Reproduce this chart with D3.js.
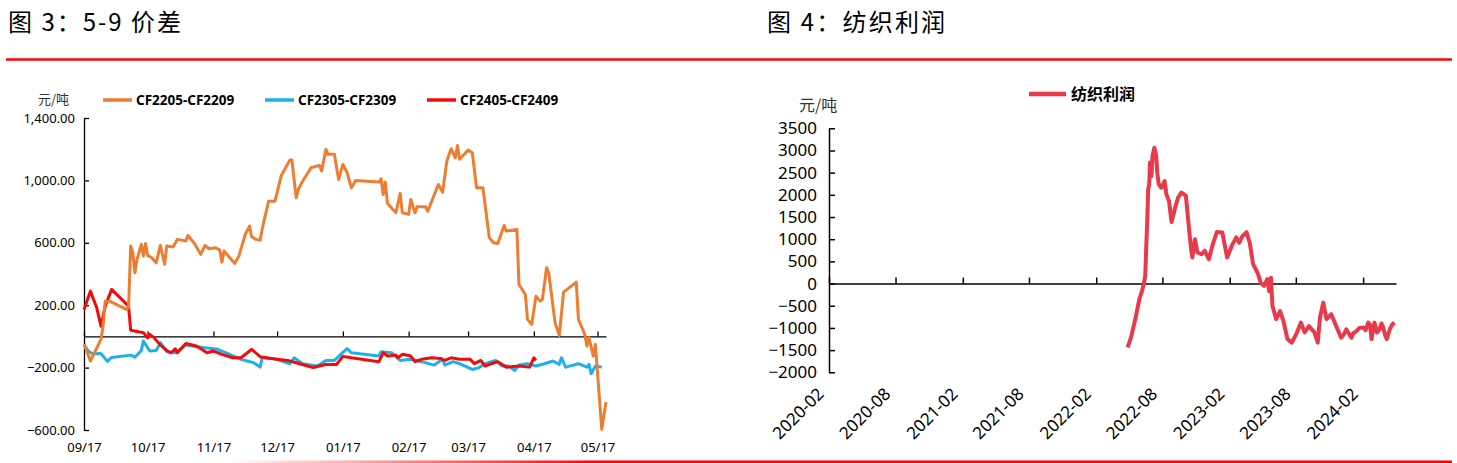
<!DOCTYPE html>
<html><head><meta charset="utf-8">
<script src="https://cdn.jsdelivr.net/npm/d3@7"></script>
<style>
html,body{margin:0;padding:0;background:#fff;}
svg{display:block;font-family:"Noto Sans","Noto Sans CJK SC",sans-serif;}
</style></head>
<body>
<svg id="c" width="1457" height="463"></svg>
<script>
// ---------- Left chart data (5-9 spread, 元/吨) ----------
const leftSeriesNames = ["CF2205-CF2209", "CF2305-CF2309", "CF2405-CF2409"];
const cf22Dates = ["09/17","09/18","09/20","09/22","09/25","09/26","09/27","09/29","10/07","10/08","10/09","10/10","10/11","10/12","10/14","10/15","10/16","10/17","10/19","10/21","10/23","10/25","10/26","10/29","10/31","11/04","11/05","11/08","11/11","11/13","11/15","11/18","11/20","11/21","11/22","11/27","11/29","12/02","12/04","12/05","12/07","12/09","12/10","12/11","12/13","12/16","12/19","12/23","12/24","12/26","12/27","12/29","01/02","01/06","01/07","01/09","01/10","01/13","01/15","01/17","01/19","01/21","01/23","02/03","02/04","02/05","02/06","02/07","02/11","02/13","02/14","02/17","02/18","02/20","02/21","02/25","02/26","03/03","03/05","03/07","03/09","03/11","03/12","03/13","03/17","03/19","03/21","03/24","03/27","03/29","03/31","04/03","04/04","04/09","04/10","04/13","04/14","04/16","04/18","04/20","04/21","04/23","04/24","04/27","04/29","05/01","05/07","05/08","05/11","05/12","05/13","05/15","05/16","05/19","05/21"];
const cf22Values = [-51,-83,-158,-103,-19,66,226,226,173,186,579,536,408,494,590,515,596,519,504,472,583,462,579,573,622,611,647,596,526,583,562,568,553,476,547,468,515,654,707,639,622,617,690,750,867,867,1032,1130,1130,889,942,995,1081,1096,1060,1199,1167,1167,1006,1103,1049,953,1000,989,1011,910,989,853,793,917,793,782,878,793,831,831,803,974,925,1124,1203,1145,1224,1135,1194,1177,953,953,633,600,596,711,675,686,333,269,109,77,258,226,237,440,408,88,6,284,348,109,13,-62,-8,-126,-51,-596,-421];

const cf23Dates = ["09/17","09/19","09/21","09/25","09/28","09/30","10/09","10/11","10/14","10/15","10/18","10/21","10/23","10/26","10/30","11/04","11/11","11/19","11/23","11/30","12/06","12/09","12/10","12/15","12/20","12/23","12/25","12/29","01/05","01/09","01/13","01/16","01/19","01/21","02/03","02/04","02/09","02/13","02/18","02/23","03/01","03/05","03/06","03/10","03/13","03/19","03/22","03/25","03/30","04/02","04/05","04/08","04/10","04/14","04/18","04/22","04/26","04/29","04/30","05/02","05/08","05/12","05/13","05/14","05/16","05/19"];
const cf23Values = [-51,-94,-112,-110,-160,-135,-120,-133,-90,-30,-94,-90,-40,-98,-105,-56,-69,-83,-105,-147,-169,-197,-137,-141,-162,-175,-137,-175,-190,-154,-154,-115,-78,-105,-126,-98,-105,-154,-147,-162,-184,-147,-184,-162,-175,-212,-201,-175,-154,-190,-190,-218,-184,-175,-190,-175,-158,-179,-137,-197,-175,-197,-179,-239,-190,-197];

const cf24Dates = ["09/17","09/20","09/23","09/25","09/27","09/30","10/08","10/09","10/15","10/17","10/18","10/20","10/23","10/26","10/28","10/30","10/31","11/04","11/09","11/14","11/17","11/21","11/26","11/30","12/03","12/05","12/09","12/14","12/22","12/28","01/03","01/09","01/14","01/17","01/21","02/03","02/05","02/07","02/11","02/12","02/14","02/18","02/20","02/23","02/28","03/04","03/06","03/09","03/13","03/18","03/20","03/23","03/25","03/28","03/31","04/04","04/10","04/15","04/17","04/18"];
const cf24Values = [173,290,184,66,194,301,194,40,24,-10,13,-8,-56,-90,-105,-79,-105,-45,-62,-105,-94,-115,-137,-137,-105,-83,-130,-141,-154,-177,-199,-180,-180,-128,-137,-162,-105,-126,-120,-137,-115,-126,-162,-147,-137,-141,-154,-137,-147,-147,-175,-154,-190,-175,-162,-197,-190,-197,-137,-154];

const leftXTickLabels = ["09/17","10/17","11/17","12/17","01/17","02/17","03/17","04/17","05/17"];
const leftYTicks = [1400, 1000, 600, 200, -200, -600];

// ---------- Right chart data (纺织利润, 元/吨) ----------
const profitDates = ["2022-04-28","2022-05-07","2022-05-19","2022-05-30","2022-06-06","2022-06-10","2022-06-15","2022-06-18","2022-06-21","2022-06-23","2022-06-26","2022-06-28","2022-07-02","2022-07-05","2022-07-10","2022-07-15","2022-07-18","2022-07-22","2022-07-29","2022-08-07","2022-08-12","2022-08-19","2022-08-26","2022-09-04","2022-09-13","2022-09-22","2022-10-04","2022-10-07","2022-10-13","2022-10-17","2022-10-19","2022-10-22","2022-10-29","2022-11-05","2022-11-16","2022-11-25","2022-12-06","2022-12-17","2022-12-28","2023-01-12","2023-01-25","2023-02-09","2023-02-19","2023-02-27","2023-03-08","2023-03-19","2023-03-28","2023-04-06","2023-04-18","2023-04-27","2023-05-06","2023-05-15","2023-05-20","2023-05-25","2023-05-29","2023-06-08","2023-06-19","2023-06-28","2023-07-09","2023-07-21","2023-08-02","2023-08-15","2023-08-25","2023-09-06","2023-09-21","2023-09-30","2023-10-06","2023-10-15","2023-10-24","2023-11-06","2023-11-21","2023-12-03","2023-12-10","2023-12-17","2023-12-31","2024-01-05","2024-01-14","2024-01-22","2024-02-02","2024-02-08","2024-02-15","2024-02-20","2024-02-24","2024-03-03","2024-03-10","2024-03-17","2024-03-22","2024-03-26","2024-04-02","2024-04-06","2024-04-14","2024-04-21","2024-04-27"];
const profitValues = [-1440,-1220,-800,-350,-170,-50,170,850,1520,2120,2240,2730,2420,2880,3060,2880,2500,2240,2160,2310,2010,1860,1390,1680,1940,2050,1980,1750,1220,900,760,590,1000,700,660,740,550,890,1160,1150,590,890,1040,920,1070,1160,920,440,250,20,-50,100,-170,130,-500,-800,-620,-840,-1250,-1330,-1140,-880,-1100,-960,-1100,-1330,-770,-430,-800,-690,-990,-1220,-1150,-1030,-1220,-1120,-1070,-1000,-990,-1050,-880,-930,-1250,-880,-1100,-1030,-900,-960,-1180,-1250,-1030,-920,-880];
const rightXTickLabels = ["2020-02","2020-08","2021-02","2021-08","2022-02","2022-08","2023-02","2023-08","2024-02"];
const rightYTicks = [3500,3000,2500,2000,1500,1000,500,0,-500,-1000,-1500,-2000];

// ---------- Drawing ----------
const svg = d3.select("#c");
const CJK = '"Noto Sans CJK SC","Noto Sans",sans-serif';
const LAT = '"Noto Sans","Noto Sans CJK SC",sans-serif';

// titles and header/footer rules
svg.append("text").attr("x", 8).attr("y", 31).attr("font-family", CJK).attr("font-size", 24).attr("letter-spacing", 2).attr("fill", "#000").text("图 3：5-9 价差");
svg.append("text").attr("x", 767).attr("y", 31).attr("font-family", CJK).attr("font-size", 24).attr("letter-spacing", 2.2).attr("fill", "#000").text("图 4：纺织利润");
svg.append("line").attr("x1", 6).attr("x2", 1452).attr("y1", 59.5).attr("y2", 59.5).attr("stroke", "#f00").attr("stroke-width", 2.5);
const grad = svg.append("defs").append("linearGradient").attr("id", "fade").attr("x1", "0").attr("x2", "1");
grad.append("stop").attr("offset", "0").attr("stop-color", "#f00").attr("stop-opacity", 0);
grad.append("stop").attr("offset", "0.3").attr("stop-color", "#f00").attr("stop-opacity", 1);
svg.append("rect").attr("x", 230).attr("y", 460.5).attr("width", 1222).attr("height", 2.5).attr("fill", "url(#fade)");

// ---- Left chart ----
const parseMD = s => { const [m, d] = s.split("/").map(Number); return new Date(m >= 9 ? 2021 : 2022, m - 1, d); };
const xL = d3.scaleTime().domain([new Date(2021, 8, 17), new Date(2022, 4, 21)]).range([84, 606]);
const yL = d3.scaleLinear().domain([-600, 1400]).range([430, 118]);
const gL = svg.append("g");

gL.append("g").attr("transform", "translate(84,0)")
  .call(d3.axisLeft(yL).tickValues(leftYTicks).tickSize(-5).tickSizeOuter(0).tickPadding(9).tickFormat(d3.format(",.2f")))
  .call(g => { g.attr("font-family", LAT).attr("font-size", 13); g.selectAll("text").attr("font-size", 13).attr("fill", "#000"); g.selectAll("line,path").attr("stroke", "#000").attr("stroke-width", 1.3); });

const leftTickDates = leftXTickLabels.map(parseMD);
gL.append("g").attr("transform", `translate(0,${yL(0)})`)
  .call(d3.axisBottom(xL).tickValues(leftTickDates).tickSize(-5).tickSizeOuter(0).tickFormat(""))
  .call(g => g.selectAll("line,path").attr("stroke", "#000").attr("stroke-width", 1.3));
gL.append("g").attr("transform", "translate(0,437)")
  .call(d3.axisBottom(xL).tickValues(leftTickDates).tickSize(0).tickPadding(6).tickFormat(d3.timeFormat("%m/%d")))
  .call(g => { g.attr("font-family", LAT).attr("font-size", 13); g.select(".domain").remove(); g.selectAll("text").attr("font-size", 13).attr("fill", "#000"); });

const lineL = d3.line().x(d => xL(d[0])).y(d => yL(d[1]));
const leftColors = ["#ED7D31", "#1CB1EC", "#F50A0A"];
const leftData = [[cf22Dates, cf22Values], [cf23Dates, cf23Values], [cf24Dates, cf24Values]];
[1, 2, 0].forEach(i => {
  const [ds, vs] = leftData[i];
  gL.append("path").datum(ds.map((d, k) => [parseMD(d), vs[k]]))
    .attr("d", lineL).attr("fill", "none").attr("stroke", leftColors[i])
    .attr("stroke-width", 3).attr("stroke-linejoin", "round");
});

// left legend
svg.append("text").attr("x", 38).attr("y", 104).attr("font-family", CJK).attr("font-size", 13).attr("fill", "#333").text("元/吨");
const legX = [103, 265, 427];
leftSeriesNames.forEach((n, i) => {
  svg.append("line").attr("x1", legX[i]).attr("x2", legX[i] + 29).attr("y1", 100).attr("y2", 100).attr("stroke", leftColors[i]).attr("stroke-width", 3.5);
  svg.append("text").attr("x", legX[i] + 33).attr("y", 104.5).attr("font-family", LAT).attr("font-size", 13.5).attr("font-weight", "bold").attr("fill", "#000").text(n);
});

// ---- Right chart ----
const parseYMD = d3.timeParse("%Y-%m-%d");
const xR = d3.scaleTime().domain([new Date(2020, 1, 1), new Date(2024, 4, 1)]).range([829, 1396]);
const yR = d3.scaleLinear().domain([-2000, 3500]).range([372.3, 128.3]);
const gR = svg.append("g");

gR.append("g").attr("transform", "translate(829,0)")
  .call(d3.axisLeft(yR).tickValues(rightYTicks).tickSize(-6).tickSizeOuter(0).tickPadding(12).tickFormat(d3.format("d")))
  .call(g => { g.attr("font-family", LAT).attr("font-size", 17); g.selectAll("text").attr("font-size", 17).attr("fill", "#000"); g.selectAll("line,path").attr("stroke", "#000").attr("stroke-width", 1.5); });

const rightTickDates = rightXTickLabels.map(s => d3.timeParse("%Y-%m")(s));
gR.append("g").attr("transform", `translate(0,${yR(0)})`)
  .call(d3.axisBottom(xR).tickValues(rightTickDates).tickSize(-6).tickSizeOuter(0).tickFormat(""))
  .call(g => g.selectAll("line,path").attr("stroke", "#000").attr("stroke-width", 1.5));
gR.append("g").attr("font-family", LAT).selectAll("text").data(rightTickDates).join("text")
  .attr("transform", d => `translate(${xR(d) - 4},${395}) rotate(-45)`)
  .attr("text-anchor", "end").attr("font-size", 17).attr("fill", "#000")
  .text(d => d3.timeFormat("%Y-%m")(d));

const lineR = d3.line().x(d => xR(d[0])).y(d => yR(d[1]));
const profitColor = "#E83A4B";
gR.append("path").datum(profitDates.map((d, k) => [parseYMD(d), profitValues[k]]))
  .attr("d", lineR).attr("fill", "none").attr("stroke", profitColor)
  .attr("stroke-width", 4).attr("stroke-linejoin", "round");

// right legend
svg.append("text").attr("x", 799).attr("y", 111).attr("font-family", CJK).attr("font-size", 16).attr("fill", "#333").text("元/吨");
svg.append("line").attr("x1", 1029).attr("x2", 1066).attr("y1", 94).attr("y2", 94).attr("stroke", profitColor).attr("stroke-width", 4.5);
svg.append("text").attr("x", 1071).attr("y", 100).attr("font-family", CJK).attr("font-size", 16).attr("font-weight", "bold").attr("fill", "#000").text("纺织利润");
</script>
</body></html>
